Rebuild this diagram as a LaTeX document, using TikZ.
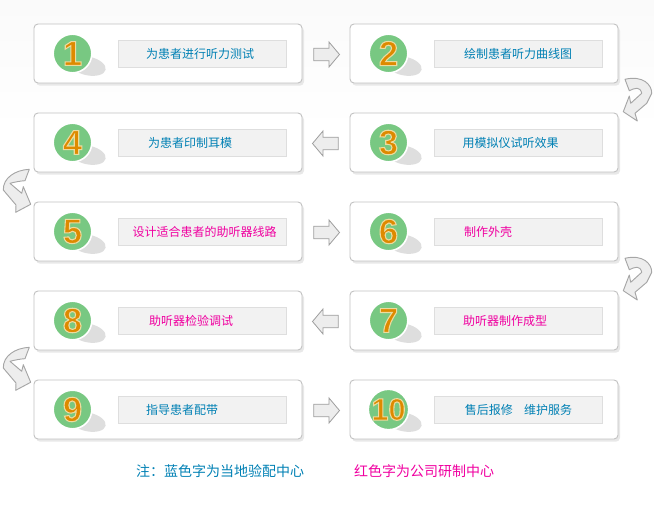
\documentclass[tikz,border=0pt]{standalone}
\usepackage{fontspec}
\setmainfont{Noto Sans CJK SC}
\newfontfamily\numfont{Liberation Sans}
\usetikzlibrary{shapes.arrows,shapes.geometric,shadows,calc}
\definecolor{stepblue}{HTML}{0080B4}
\definecolor{stepred}{HTML}{F000A0}
\definecolor{stepgreen}{HTML}{78C882}
\definecolor{steporange}{HTML}{DE8A00}
\newcommand{\stepnum}[1]{\textcolor{steporange}{\special{pdf:code 2 Tr 0.8 w 0.93 0.86 0.62 RG}#1\special{pdf:code 0 Tr}}}
\tikzset{
  card/.style={draw=black!24, fill=white, rounded corners=3pt, line width=0.7pt, inner sep=0pt, outer sep=0pt,
    minimum width=201pt, minimum height=44.25pt,
    general shadow={shadow xshift=1.5pt, shadow yshift=-2pt, fill=black!9}},
  bar/.style={draw=black!13, fill=black!5, line width=0.75pt, inner sep=0pt, outer sep=0pt,
    minimum width=126pt, minimum height=20.25pt},
  cast/.style={ellipse, fill=black!13, inner sep=0pt, minimum width=27pt, minimum height=14pt, rotate=-12},
  num/.style={circle, fill=stepgreen, draw=white, line width=1.2pt, inner sep=0pt, minimum size=29pt,
    font=\numfont\bfseries\fontsize{26}{26}\selectfont},
  numsmall/.style={num, font=\numfont\bfseries\fontsize{23}{23}\selectfont},
  textblue/.style={text=stepblue, font=\fontsize{9}{9}\selectfont, inner sep=0pt},
  textred/.style={text=stepred, font=\fontsize{9}{9}\selectfont, inner sep=0pt},
  blockarrow/.style={single arrow, draw=black!38, fill=black!7, line width=0.6pt, inner sep=4.4pt,
    minimum height=19.3pt, single arrow head extend=4.7pt,
    single arrow tip angle=100, single arrow head indent=0pt},
  turn/.style={draw=black!35, fill=black!7, line width=0.7pt, line join=round},
}
\begin{document}
\begin{tikzpicture}[x=0.75pt, y=-0.75pt]
        \useasboundingbox (0, 0) rectangle (654, 507);
        \shade [top color=black!2, bottom color=white, draw=none] (0, 0) rectangle (654, 130);

        % step cards
        \node [card] (card1) at (168, 53.5) {};
        \node [card] (card2) at (484, 53.5) {};
        \node [card] (card4) at (168, 142.5) {};
        \node [card] (card3) at (484, 142.5) {};
        \node [card] (card5) at (168, 231.5) {};
        \node [card] (card6) at (484, 231.5) {};
        \node [card] (card8) at (168, 320.5) {};
        \node [card] (card7) at (484, 320.5) {};
        \node [card] (card9) at (168, 409.5) {};
        \node [card] (card10) at (484, 409.5) {};

        \node [cast] (cast1) at (88, 66) {};
        \node [cast] (cast2) at (404, 66) {};
        \node [cast] (cast4) at (88, 155) {};
        \node [cast] (cast3) at (404, 155) {};
        \node [cast] (cast5) at (88, 244) {};
        \node [cast] (cast6) at (404, 244) {};
        \node [cast] (cast8) at (88, 333) {};
        \node [cast] (cast7) at (404, 333) {};
        \node [cast] (cast9) at (88, 422) {};
        \node [cast] (cast10) at (404, 422) {};

        \node [num] (num1) at (72.5, 53.5) {\stepnum{1}};
        \node [num] (num2) at (388.5, 53.5) {\stepnum{2}};
        \node [num] (num4) at (72.5, 142.5) {\stepnum{4}};
        \node [num] (num3) at (388.5, 142.5) {\stepnum{3}};
        \node [num] (num5) at (72.5, 231.5) {\stepnum{5}};
        \node [num] (num6) at (388.5, 231.5) {\stepnum{6}};
        \node [num] (num8) at (72.5, 320.5) {\stepnum{8}};
        \node [num] (num7) at (388.5, 320.5) {\stepnum{7}};
        \node [num] (num9) at (72.5, 409.5) {\stepnum{9}};
        \node [numsmall] (num10) at (388.5, 409.5) {\stepnum{10}};

        \node [bar] (bar1) at (202, 53.5) {};
        \node [bar] (bar2) at (518, 53.5) {};
        \node [bar] (bar4) at (202, 142.5) {};
        \node [bar] (bar3) at (518, 142.5) {};
        \node [bar] (bar5) at (202, 231.5) {};
        \node [bar] (bar6) at (518, 231.5) {};
        \node [bar] (bar8) at (202, 320.5) {};
        \node [bar] (bar7) at (518, 320.5) {};
        \node [bar] (bar9) at (202, 409.5) {};
        \node [bar] (bar10) at (518, 409.5) {};

        \node [textblue] (text1) at (200, 54) {为患者进行听力测试};
        \node [textblue] (text2) at (518, 54) {绘制患者听力曲线图};
        \node [textblue] (text4) at (190, 143) {为患者印制耳模};
        \node [textblue] (text3) at (510.5, 143) {用模拟仪试听效果};
        \node [textred] (text5) at (204.5, 232) {设计适合患者的助听器线路};
        \node [textred] (text6) at (488, 232) {制作外壳};
        \node [textred] (text8) at (191, 321) {助听器检验调试};
        \node [textred] (text7) at (505, 321) {助听器制作成型};
        \node [textblue] (text9) at (182, 410) {指导患者配带};
        \node [textblue] (text10) at (518.5, 410) {售后报修\hspace{8.5pt}维护服务};

        % arrows between cards
        \node [blockarrow] (arrow12) at (324, 54.5) {};
        \node [blockarrow, shape border rotate=180] (arrow34) at (328, 143.5) {};
        \node [blockarrow] (arrow56) at (324, 232.5) {};
        \node [blockarrow, shape border rotate=180] (arrow78) at (328, 321.5) {};
        \node [blockarrow] (arrow910) at (324, 410.5) {};

        % turning arrows
        \draw [turn] (625, 79.3) .. controls (643, 75) and (652, 85) .. (651.7, 93.3) -- (646.7, 103.3) -- (635, 113.3) -- (637.3, 121) -- (623.3, 111.7) -- (629.3, 96) -- (630.7, 103.3) -- (641.7, 93.3) .. controls (640, 86) and (635, 88) .. (629.3, 90.7) -- cycle;
        \draw [turn] (625, 258.3) .. controls (643, 254) and (652, 264) .. (651.7, 272.3) -- (646.7, 282.3) -- (635, 292.3) -- (637.3, 300) -- (623.3, 290.7) -- (629.3, 275) -- (630.7, 282.3) -- (641.7, 272.3) .. controls (640, 265) and (635, 267) .. (629.3, 269.7) -- cycle;
        \draw [turn] (29.3, 169.3) .. controls (15, 170) and (3, 178) .. (3.3, 190) -- (16, 205) -- (15.7, 212.3) -- (30.7, 204.3) -- (23.3, 186.7) -- (21.7, 193.3) -- (10, 183.3) .. controls (15, 182) and (20, 181) .. (25, 180.7) -- cycle;
        \draw [turn] (29.3, 347.3) .. controls (15, 348) and (3, 356) .. (3.3, 368) -- (16, 383) -- (15.7, 390.3) -- (30.7, 382.3) -- (23.3, 364.7) -- (21.7, 371.3) -- (10, 361.3) .. controls (15, 360) and (20, 359) .. (25, 358.7) -- cycle;

        % legend
        \node [textblue, font=\fontsize{10.5}{10.5}\selectfont] (noteblue) at (220, 471.5) {注：蓝色字为当地验配中心};
        \node [textred, font=\fontsize{10.5}{10.5}\selectfont] (notered) at (424, 471.5) {红色字为公司研制中心};
\end{tikzpicture}
\end{document}
